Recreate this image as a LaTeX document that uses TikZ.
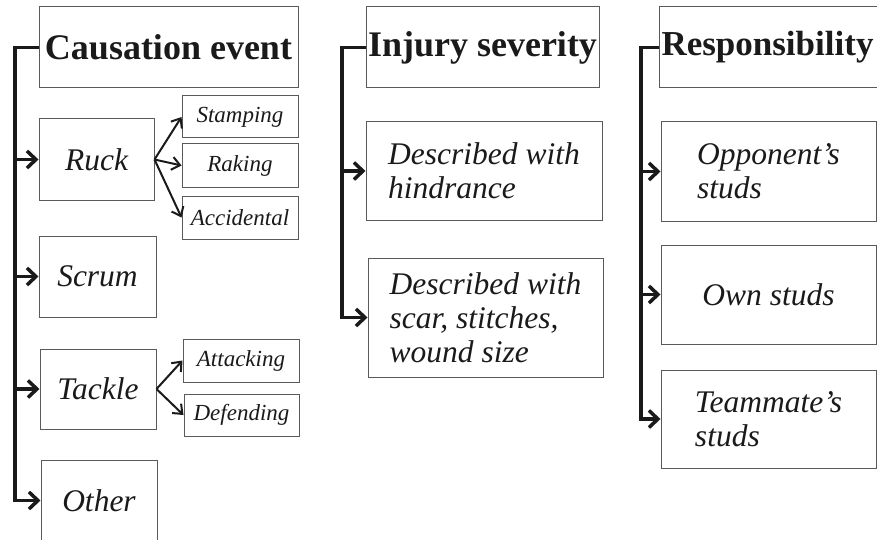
\documentclass[tikz,border=0pt]{standalone}
\usepackage{fontspec}
\setmainfont{Liberation Serif}
\usetikzlibrary{arrows.meta}
\definecolor{boxgray}{HTML}{5A5A5A}
\definecolor{ink}{HTML}{1A1A1A}
\begin{document}
\begin{tikzpicture}[x=1pt,y=-1pt,
  box/.style={draw=boxgray,line width=1pt,inner sep=0pt,align=left,text=ink},
  title/.style={box,font=\fontsize{36}{40}\selectfont\bfseries,minimum height=81pt},
  item/.style={box,font=\fontsize{31.5}{34}\selectfont\itshape},
  sub/.style={box,font=\fontsize{23}{26}\selectfont\itshape},
  bracket/.style={draw=ink,line width=3.5pt},
  brarrow/.style={bracket,-{Straight Barb[length=9pt,width=17pt]}},
  subarrow/.style={draw=ink,line width=2pt,-{Straight Barb[length=8pt,width=13pt]}}
]
\useasboundingbox (0,0) rectangle (877,540);

% column 1
\node[title,minimum width=259pt] (cause) at (168.5,47.5) {Causation event};
\node[item,minimum width=115pt,minimum height=81pt] (ruck) at (96.5,159.5) {Ruck};
\node[sub,minimum width=116pt,minimum height=42pt] (stamp) at (240,117) {Stamping};
\node[sub,minimum width=116pt,minimum height=43pt] (rak) at (240,165.5) {Raking};
\node[sub,minimum width=116pt,minimum height=43pt] (acc) at (240,217.5) {Accidental};
\node[item,minimum width=117pt,minimum height=81pt] (scrum) at (97.5,276.5) {Scrum};
\node[item,minimum width=116pt,minimum height=80pt] (tackle) at (98,389) {Tackle};
\node[sub,minimum width=116pt,minimum height=43pt] (att) at (241,360.5) {Attacking};
\node[sub,minimum width=115pt,minimum height=42pt] (def) at (241.5,415) {Defending};
\node[item,minimum width=116pt,minimum height=81pt] (other) at (99,500.5) {Other};

\coordinate (b1) at (15,0);
\draw[brarrow] (cause.west) -| (b1 |- other.west) -- (other.west);
\draw[brarrow] (b1 |- ruck.west) -- (ruck.west);
\draw[brarrow] (b1 |- scrum.west) -- (scrum.west);
\draw[brarrow] (b1 |- tackle.west) -- (tackle.west);

\draw[subarrow] (ruck.east) -- (stamp.west);
\draw[subarrow] (ruck.east) -- (rak.west);
\draw[subarrow] (ruck.east) -- (acc.west);
\draw[subarrow] (tackle.east) -- (att.west);
\draw[subarrow] (tackle.east) -- (def.west);

% column 2
\node[title,minimum width=233pt] (inj) at (482.5,47.5) {Injury severity};
\node[item,minimum width=236pt,minimum height=98pt] (hind) at (484,171) {Described with\\hindrance};
\node[item,minimum width=235pt,minimum height=119pt] (scar) at (485.5,317.5) {Described with\\scar, stitches,\\wound size};

\coordinate (b2) at (342,0);
\draw[brarrow] (inj.west) -| (b2 |- scar.west) -- (scar.west);
\draw[brarrow] (b2 |- hind.west) -- (hind.west);

% column 3
\node[title,font=\fontsize{35}{40}\selectfont\bfseries,anchor=west,inner xsep=2pt,text width=236pt,align=left] (resp) at (659,47.5) {Responsibility};
\node[item,minimum width=215pt,minimum height=99pt] (opp) at (768.5,171.5) {Opponent’s\\studs};
\node[item,minimum width=215pt,minimum height=99pt] (own) at (768.5,294.5) {Own studs};
\node[item,minimum width=215pt,minimum height=98pt] (team) at (768.5,419) {Teammate’s\\studs};

\coordinate (b3) at (641,0);
\draw[brarrow] (resp.west) -| (b3 |- team.west) -- (team.west);
\draw[brarrow] (b3 |- opp.west) -- (opp.west);
\draw[brarrow] (b3 |- own.west) -- (own.west);
\end{tikzpicture}
\end{document}
